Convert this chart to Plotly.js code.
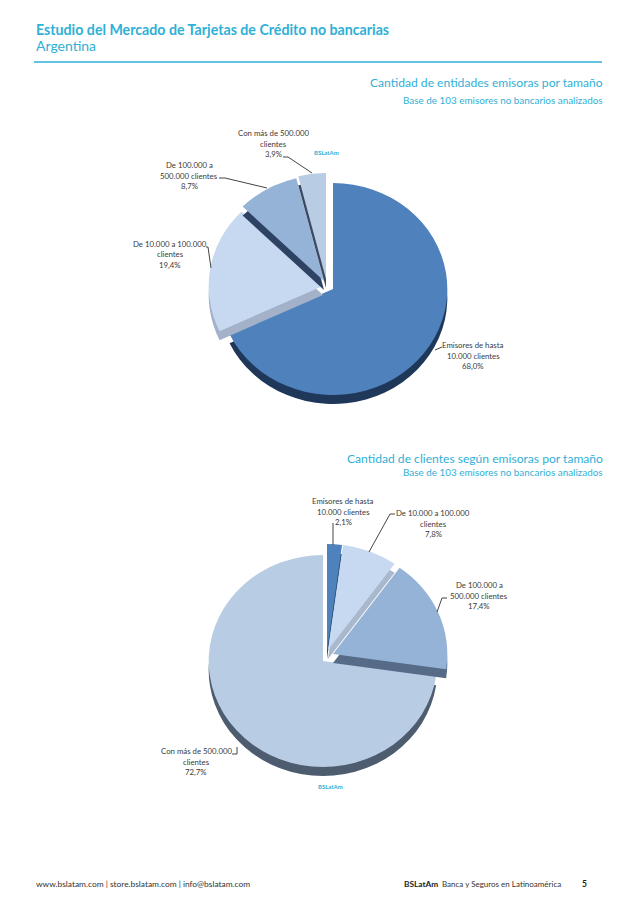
<!DOCTYPE html>
<html><head><meta charset="utf-8">
<script src="https://cdn.plot.ly/plotly-3.0.1.min.js"></script>
<style>html,body{margin:0;padding:0;background:#fff}#c{width:638px;height:903px}</style></head>
<body><div id="c"></div>
<script>
const W = 638, H = 903;
const categories = ["Emisores de hasta 10.000 clientes","De 10.000 a 100.000 clientes","De 100.000 a 500.000 clientes","Con más de 500.000 clientes"];
const valuesEntidades = [68.0, 19.4, 8.7, 3.9];
const valuesClientes = [2.1, 7.8, 17.4, 72.7];
const faceColors = ["#4f81bd","#c6d9f0","#95b3d7","#b8cce4"];
const wallEntidades = ["#1f3859","#a3b2c8","#2e4263","#3b4a60"];
const wallClientes = ["#2f5480","#a9b8cc","#566b88","#4d5c6e"];
// exploded slice offsets in pixels, and the order slices are stacked in
const offsetEntidades = [[0,0],[-10,-3],[-9,-8],[-7,-10]];
const offsetClientes = [[4,-11],[5,-11],[10,-7],[0,0]];
const orderEntidades = [0,1,2,3];
const orderClientes = [3,0,1,2];
const ACCENT = "#2fb0d6", TXT = "#3a3a3a", F = "Lato, 'Open Sans', sans-serif";
const R = 111, DEPTH = 9, SX = 1.03, SY = 0.955, NONE = "rgba(0,0,0,0)";
const px = x => x / W, py = y => 1 - y / H;

function slice(values, i, color, cx, cy) {
  const colors = values.map((_, j) => j === i ? color : NONE);
  const x = cx / SX, y = cy / SY;
  return {type:"pie", labels:categories, values, sort:false, direction:"clockwise", rotation:0,
    marker:{colors, line:{width:0}}, textinfo:"none", hoverinfo:"skip", showlegend:false,
    domain:{x:[px(x-R), px(x+R)], y:[py(y+R), py(y-R)]}};
}
function exploded(values, walls, offsets, order, cx, cy) {
  const out = [];
  order.forEach(i => {
    const [dx, dy] = offsets[i];
    out.push(slice(values, i, walls[i], cx+dx, cy+dy+DEPTH));
    out.push(slice(values, i, faceColors[i], cx+dx, cy+dy));
  });
  return out;
}
const traces = [
  ...exploded(valuesEntidades, wallEntidades, offsetEntidades, orderEntidades, 333, 289),
  ...exploded(valuesClientes, wallClientes, offsetClientes, orderClientes, 323, 661)
];

function note(text, x, y, size, color, anchor, bold) {
  return {text: bold ? "<b>"+text+"</b>" : text, x:px(x), y:py(y), xref:"paper", yref:"paper", showarrow:false,
    borderpad:0, borderwidth:0, xanchor:anchor, yanchor:"middle", align:anchor, font:{family:F, size, color}};
}
function stacked(lines, x, y, step) {
  return lines.map((t,i) => note(t, x, y + i*step, 7.8, TXT, "center"));
}
const annotations = [
  note("Estudio del Mercado de Tarjetas de Crédito no bancarias", 36, 29, 14.2, ACCENT, "left", true),
  note("Argentina", 36, 46, 14, ACCENT, "left"),
  note("Cantidad de entidades emisoras por tamaño", 603, 83, 12.1, ACCENT, "right"),
  note("Base de 103 emisores no bancarios analizados", 603, 100, 9.9, ACCENT, "right"),
  note("Cantidad de clientes según emisoras por tamaño", 603, 458, 12.1, ACCENT, "right"),
  note("Base de 103 emisores no bancarios analizados", 603, 472, 9.9, ACCENT, "right"),
  note("BSLatAm", 327, 152, 6, ACCENT, "center", true),
  note("BSLatAm", 330, 786, 6, ACCENT, "center", true),
  ...stacked(["Con más de 500.000","clientes","3,9%"], 273, 133, 10.5),
  ...stacked(["De 100.000 a","500.000 clientes","8,7%"], 189, 165, 10.5),
  ...stacked(["De 10.000 a 100.000","clientes","19,4%"], 170, 244, 10.5),
  ...stacked(["Emisores de hasta","10.000 clientes","68,0%"], 473, 345, 10.5),
  ...stacked(["Emisores de hasta","10.000 clientes","2,1%"], 343, 501, 10.5),
  ...stacked(["De 10.000 a 100.000","clientes","7,8%"], 433, 513, 10.5),
  ...stacked(["De 100.000 a","500.000 clientes","17,4%"], 479, 585, 10.5),
  ...stacked(["Con más de 500.000","clientes","72,7%"], 196, 751, 10.5),
  note("www.bslatam.com | store.bslatam.com | info@bslatam.com", 36, 884, 8.4, "#333", "left"),
  note("BSLatAm", 404, 884, 8.3, "#222", "left", true),
  note("Banca y Seguros en Latinoamérica", 561, 884, 8, "#333", "right"),
  note("5", 582, 884, 8.5, "#222", "left", true)
];
function leader(pts) {
  const path = pts.map((p,i) => (i?"L":"M")+px(p[0])+" "+py(p[1])).join(" ");
  return {type:"path", path, xref:"paper", yref:"paper", line:{color:"#444", width:1}};
}
const shapes = [
  {type:"line", xref:"paper", yref:"paper", x0:px(34), x1:px(602), y0:py(62), y1:py(62), line:{color:ACCENT, width:1.5}},
  leader([[283,157],[288,157],[312,173]]),
  leader([[219,178],[225,178],[267,188]]),
  leader([[206,247],[208,247],[211,268]]),
  leader([[442,347],[435,350]]),
  leader([[333,523],[333,545]]),
  leader([[395,514],[390,514],[369,552]]),
  leader([[447,598],[442,598],[437,612]]),
  leader([[232,754],[237,754],[237,747]])
];
Plotly.newPlot("c", traces, {width:W, height:H, margin:{l:0,r:0,t:0,b:0}, paper_bgcolor:"#fff", annotations, shapes}, {displayModeBar:false, staticPlot:true})
  .then(gd => {
    // the reference pies are slightly flattened by their 3D tilt
    const layer = gd.querySelector(".pielayer");
    if (layer) layer.setAttribute("transform", "scale("+SX+" "+SY+")");
  });
</script></body></html>
